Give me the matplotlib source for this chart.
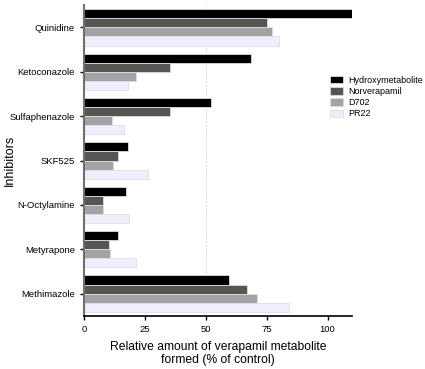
import numpy as np
import matplotlib.pyplot as plt
import matplotlib as mpl

mpl.rcParams["font.family"] = ["Liberation Sans", "DejaVu Sans"]

# data
inhibitors = ["Quinidine", "Ketoconazole", "Sulfaphenazole", "SKF525",
              "N-Octylamine", "Metyrapone", "Methimazole"]
hydroxy = [112, 68.7, 52.3, 18.2, 17.1, 13.8, 59.4]
norverapamil = [75.0, 35.4, 35.4, 13.8, 7.9, 10.4, 66.9]
d702 = [77.0, 21.3, 11.3, 12.0, 7.7, 10.8, 71.2]
pr22 = [80.0, 17.9, 16.4, 26.1, 18.3, 21.3, 84.1]

series = [("Hydroxymetabolite", hydroxy, "#000000"),
          ("Norverapamil", norverapamil, "#555652"),
          ("D702", d702, "#a3a3a7"),
          ("PR22", pr22, "#eeeefc")]

fig = plt.figure(figsize=(4.25, 3.69), dpi=100)
ax = fig.add_axes([0.198, 0.144, 0.63, 0.842])

y = np.arange(len(inhibitors))
h = 0.205
for i, (name, vals, col) in enumerate(series):
    ax.barh(y + (i - 1.5) * h, vals, height=h, color=col,
            edgecolor="#dddddd", linewidth=0.6, label=name, zorder=2)

ax.axvline(50, color="#cccccc", linestyle=(0, (2, 2)), linewidth=0.6, zorder=1)

ax.set_xlim(0, 110)
ax.set_ylim(len(inhibitors) - 0.5, -0.5)
ax.set_yticks(y)
ax.set_yticklabels(inhibitors, fontsize=6.8)
ax.set_xticks([0, 25, 50, 75, 100])
ax.tick_params(axis="x", labelsize=6.8, length=3, width=1)
ax.tick_params(axis="y", length=3, width=1)

ax.spines["top"].set_visible(False)
ax.spines["right"].set_visible(False)
ax.spines["left"].set_color("#707070")
ax.spines["left"].set_linewidth(1.5)
ax.spines["bottom"].set_linewidth(1.2)

ax.set_ylabel("Inhibitors", fontsize=9)
ax.yaxis.set_label_coords(-0.255, 0.5)
ax.set_xlabel("Relative amount of verapamil metabolite\nformed (% of control)",
              fontsize=8.7, labelpad=5, linespacing=1.15)

fig.legend(loc="upper left", bbox_to_anchor=(326 / 425, 1 - 72 / 369),
           frameon=False, fontsize=6.5, handlelength=1.5, handleheight=0.9,
           handletextpad=0.6, labelspacing=0.25, borderaxespad=0.0)

fig.savefig("out.png", dpi=100)
